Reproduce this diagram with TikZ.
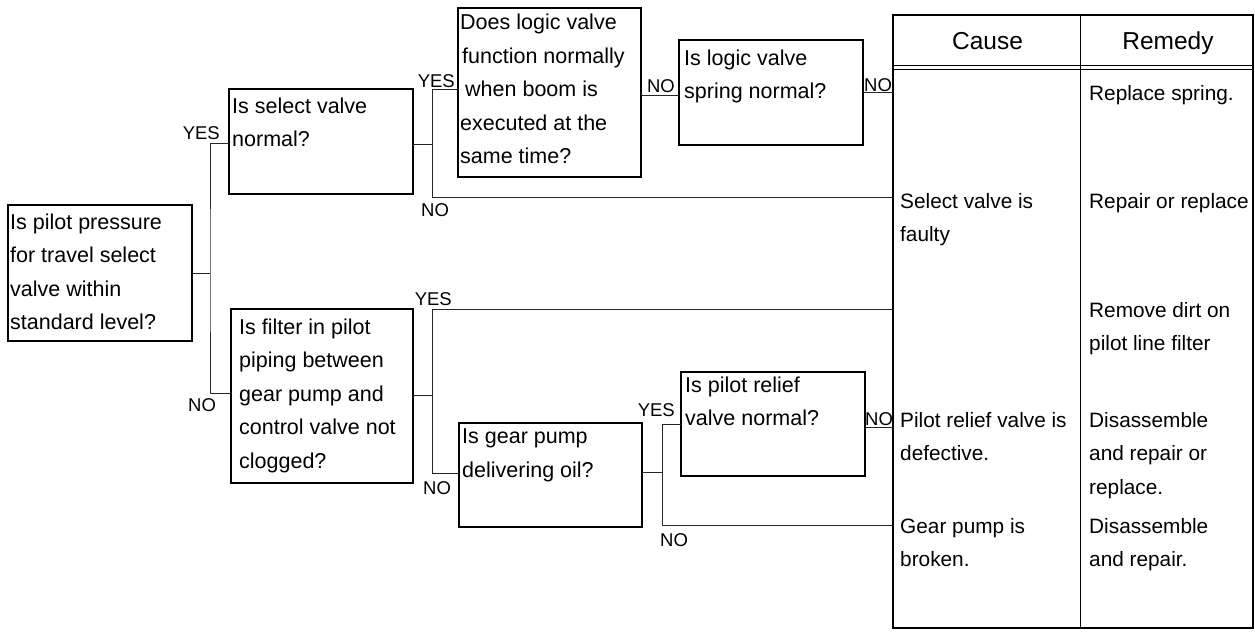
\documentclass[tikz,border=0pt]{standalone}
\usepackage{fontspec}
\setmainfont{Liberation Sans}
\newcommand\qfnt{\fontsize{21.5}{33.5}\selectfont}
\newcommand\tfnt{\fontsize{20.8}{33.8}\selectfont}
\newcommand\hfnt{\fontsize{24.5}{28}\selectfont}
\newcommand\lfnt{\fontsize{18.5}{20}\selectfont}
\begin{document}
\begin{tikzpicture}[x=1pt,y=-1pt,
  qbox/.style={draw, line width=1.3pt, inner sep=0pt, outer sep=0pt},
  qtext/.style={anchor=north west, inner sep=0pt, align=left, font=\qfnt},
  ttext/.style={anchor=north west, inner sep=0pt, align=left, font=\tfnt},
  lbl/.style={inner sep=0pt, font=\lfnt},
  conn/.style={line width=1pt, draw=black!85}]
\useasboundingbox (0,0) rectangle (1255,639);

% question boxes
\node[qbox, minimum width=184, minimum height=136] (b1) at (100,273) {};
\node[qbox, minimum width=184, minimum height=105] (b2) at (321,141.5) {};
\node[qbox, minimum width=182, minimum height=174] (b3) at (322,396) {};
\node[qbox, minimum width=183, minimum height=169] (b4) at (549.5,92.5) {};
\node[qbox, minimum width=184, minimum height=105] (b5) at (771,92.5) {};
\node[qbox, minimum width=183, minimum height=104] (b6) at (550.5,475) {};
\node[qbox, minimum width=184, minimum height=104] (b7) at (773,424) {};

% question texts (y = first baseline - 23.45)
\node[qtext] (b1t) at (10,205.5) {\strut Is pilot pressure\\for travel select\\valve within\\standard level?};
\node[qtext] (b2t) at (232,89.5) {\strut Is select valve\\normal?};
\node[qtext] (b3t) at (239,310.5) {\strut Is filter in pilot\\piping between\\gear pump and\\control valve not\\clogged?};
\node[qtext] (b4t) at (460,6) {\strut Does logic valve\\\hspace*{2pt}function normally\\\hspace*{5pt}when boom is\\executed at the\\same time?};
\node[qtext] (b5t) at (684,41.5) {\strut Is logic valve\\spring normal?};
\node[qtext] (b6t) at (462,420) {\strut Is gear pump\\delivering oil?};
\node[qtext] (b7t) at (685,368.5) {\strut Is pilot relief\\valve normal?};

% table
\node[draw, line width=1.3pt, inner sep=0pt, outer sep=0pt, minimum width=360, minimum height=613] (tab) at (1073,321.5) {};
\draw[line width=1.2pt] (1080.3,15) -- (1080.3,628);
\draw[line width=1pt] (893,65.7) -- (1253,65.7);
\draw[line width=1pt] (893,69.2) -- (1253,69.2);
\node[inner sep=0pt, font=\hfnt, anchor=base] (hc) at (987.5,49.3) {Cause};
\node[inner sep=0pt, font=\hfnt, anchor=base] (hr) at (1168,49.3) {Remedy};

\node[ttext] (r1) at (1089,76.3) {\strut Replace spring.};
\node[ttext] (c2) at (900,184.3) {\strut Select valve is\\faulty};
\node[ttext] (r2) at (1089,184.3) {\strut Repair or replace};
\node[ttext] (r3) at (1089,293.3) {\strut Remove dirt on\\pilot line filter};
\node[ttext] (c4) at (900,403.3) {\strut Pilot relief valve is\\defective.};
\node[ttext] (r4) at (1089,403.3) {\strut Disassemble\\and repair or\\replace.};
\node[ttext] (c5) at (900,509.3) {\strut Gear pump is\\broken.};
\node[ttext] (r5) at (1089,509.3) {\strut Disassemble\\and repair.};

% junction coordinates
\coordinate (j1) at (210,273);
\coordinate (j2) at (432.7,145);
\coordinate (j3) at (432.3,395);
\coordinate (j4) at (662.7,472);
\coordinate (t2) at (893,197.3);
\coordinate (t3) at (893,309.3);
\coordinate (t5) at (893,525);

% connectors
\draw[conn] (b1.east) -- (j1);
\draw[conn] ([yshift=-2.5pt]b2.west) -| (j1) |- ([yshift=3pt]b3.west);
\draw[conn] ([yshift=-3.5pt]b2.east) -- (j2);
\draw[conn] ([yshift=3pt]b4.west) -| (j2) |- (t2);
\draw[conn] ([yshift=-3.5pt]b4.east) -- ([yshift=-3.5pt]b5.west);
\draw[conn] (b5.east) -- (b5.east -| tab.west);
\draw[conn] ([yshift=1pt]b3.east) -- (j3);
\draw[conn] (t3) -| (j3) |- ([yshift=2pt]b6.west);
\draw[conn] ([yshift=3pt]b6.east) -- (j4);
\draw[conn] (b7.west) -| (j4) |- (t5);
\draw[conn] ([yshift=-3pt]b7.east) -- ([yshift=-3pt]b7.east -| tab.west);

% labels
\node[lbl, anchor=base east] (l1) at (220,140) {YES};
\node[lbl, anchor=base west] (l2) at (188,411) {NO};
\node[lbl, anchor=base east] (l3) at (455,87.3) {YES};
\node[lbl, anchor=base west] (l4) at (421,216) {NO};
\node[lbl, anchor=base east] (l5) at (675,93) {NO};
\node[lbl, anchor=base west] (l6) at (864,92) {NO};
\node[lbl, anchor=base east] (l7) at (452,305) {YES};
\node[lbl, anchor=base west] (l8) at (423,494) {NO};
\node[lbl, anchor=base east] (l9) at (675,416.7) {YES};
\node[lbl, anchor=base west] (l10) at (660,546) {NO};
\node[lbl, anchor=base west] (l11) at (865,425) {NO};
\end{tikzpicture}
\end{document}
